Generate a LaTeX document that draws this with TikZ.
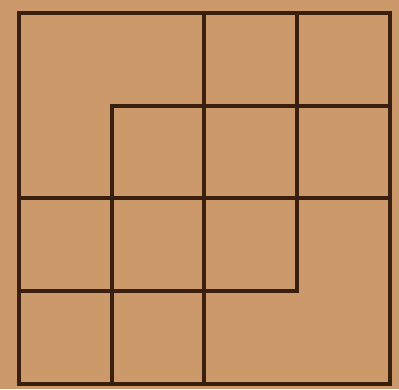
\documentclass[tikz,border=0pt]{standalone}
\usepackage{tikz}
\usepackage{xcolor}
\definecolor{board}{RGB}{204,153,106}
\definecolor{ink}{RGB}{58,30,14}

\begin{document}
\begin{tikzpicture}[scale=2,line width=2.3pt,line cap=rect]
\fill[board] (-0.205,-0.06) rectangle (4.1,4.14);
\useasboundingbox (-0.205,-0.06) rectangle (4.1,4.14);
\draw[ink] (0,0) rectangle (4,4);
\draw[ink] (2,0)--(2,4);
\draw[ink] (1,0)--(1,3)--(4,3);
\draw[ink] (0,1)--(3,1)--(3,4);
\draw[ink] (0,2)--(4,2);
\end{tikzpicture}
\end{document}
